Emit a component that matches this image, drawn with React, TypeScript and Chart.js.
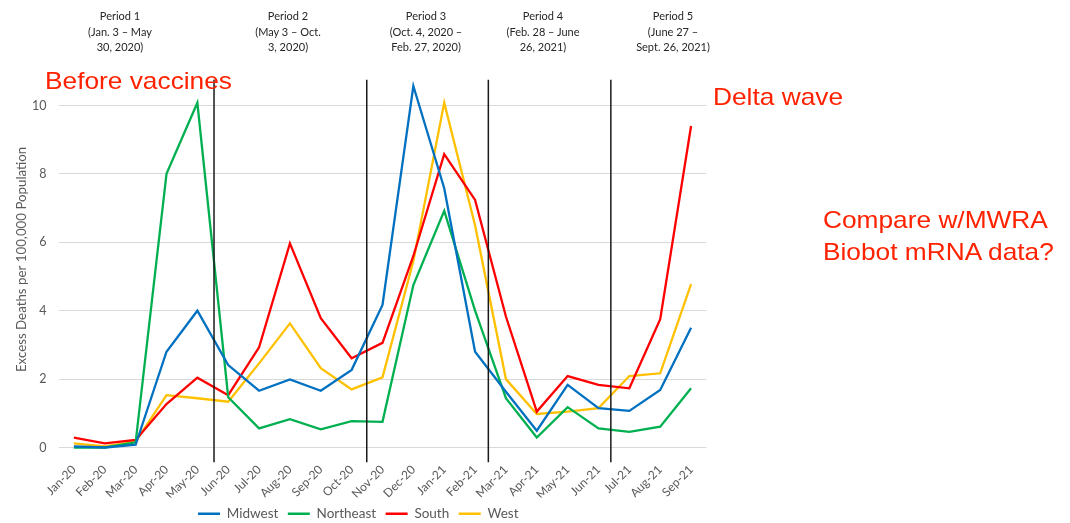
import React, { useEffect, useRef } from "react";
import { Chart, registerables } from "chart.js";

Chart.register(...registerables);

const months = [
  "Jan-20", "Feb-20", "Mar-20", "Apr-20", "May-20", "Jun-20", "Jul-20", "Aug-20", "Sep-20", "Oct-20",
  "Nov-20", "Dec-20", "Jan-21", "Feb-21", "Mar-21", "Apr-21", "May-21", "Jun-21", "Jul-21", "Aug-21", "Sep-21",
];

const midwest = [0.03, 0.0, 0.08, 2.8, 4.0, 2.41, 1.66, 1.99, 1.66, 2.27, 4.17, 10.57, 7.58, 2.8, 1.63, 0.49, 1.83, 1.15, 1.07, 1.68, 3.5];
const northeast = [0.0, 0.0, 0.15, 8.0, 10.08, 1.47, 0.56, 0.83, 0.53, 0.77, 0.75, 4.75, 6.92, 4.0, 1.44, 0.29, 1.18, 0.56, 0.46, 0.61, 1.73];
const south = [0.29, 0.12, 0.22, 1.27, 2.04, 1.53, 2.93, 5.97, 3.78, 2.61, 3.06, 5.6, 8.58, 7.24, 3.83, 1.05, 2.09, 1.83, 1.73, 3.75, 9.4];
const west = [0.12, 0.03, 0.17, 1.53, 1.44, 1.34, 2.46, 3.63, 2.32, 1.7, 2.05, 5.45, 10.08, 6.5, 2.0, 0.98, 1.05, 1.15, 2.09, 2.17, 4.78];

const seriesNames = ["Midwest", "Northeast", "South", "West"];
const seriesColors = ["#0070C0", "#00B050", "#FF0000", "#FFC000"];

// Period boundaries, in category-index units (between months)
const periodBoundaries = [4.54, 9.49, 13.43, 17.4];
const boundaryTopValue = 10.75;
const boundaryBottomValue = -0.43;

const periodLabels = [
  ["Period 1", "(Jan. 3 \u2013 May", "30, 2020)"],
  ["Period 2", "(May 3 \u2013 Oct.", "3, 2020)"],
  ["Period 3", "(Oct. 4, 2020 \u2013", "Feb. 27, 2020)"],
  ["Period 4", "(Feb. 28 \u2013 June", "26, 2021)"],
  ["Period 5", "(June 27 \u2013", "Sept. 26, 2021)"],
];
const periodCenters = [120, 288, 426, 543, 673];

const yTicks = [0, 2, 4, 6, 8, 10];
const yTitle = "Excess Deaths per 100,000 Population";
const yTitleCenterValue = 5.5;

const boundaryPlugin = {
  id: "periodBoundaries",
  afterDatasetsDraw(chart: any) {
    const xs = chart.scales.x;
    const ys = chart.scales.y;
    const ctx = chart.ctx;
    ctx.save();
    ctx.strokeStyle = "#1a1a1a";
    ctx.lineWidth = 1.5;
    periodBoundaries.forEach((p) => {
      const i = Math.floor(p);
      const x0 = xs.getPixelForValue(i);
      const x1 = xs.getPixelForValue(i + 1);
      const x = x0 + (p - i) * (x1 - x0);
      ctx.beginPath();
      ctx.moveTo(x, ys.getPixelForValue(boundaryTopValue));
      ctx.lineTo(x, ys.getPixelForValue(boundaryBottomValue));
      ctx.stroke();
    });
    ctx.restore();
  },
};

const yTitlePlugin = {
  id: "yTitle",
  afterDraw(chart: any) {
    const ys = chart.scales.y;
    const ctx = chart.ctx;
    ctx.save();
    ctx.translate(ys.left + 11.5, ys.getPixelForValue(yTitleCenterValue));
    ctx.rotate(-Math.PI / 2);
    ctx.fillStyle = "#595959";
    ctx.font = "13.3px Lato";
    ctx.textAlign = "center";
    ctx.textBaseline = "middle";
    ctx.fillText(yTitle, 0, 0);
    ctx.restore();
  },
};

export default function App() {
  const ref = useRef<HTMLCanvasElement>(null);

  useEffect(() => {
    if (!ref.current) return;
    Chart.defaults.font.family = "Lato";
    const seriesData = [midwest, northeast, south, west];
    const chart = new Chart(ref.current, {
      type: "line",
      data: {
        labels: months,
        datasets: seriesNames.map((name, k) => ({
          label: name,
          data: seriesData[k],
          borderColor: seriesColors[k],
          backgroundColor: seriesColors[k],
          borderWidth: 2.3,
          pointRadius: 0,
          pointStyle: "line",
          tension: 0,
          clip: false as any,
        })),
      },
      options: {
        responsive: false,
        animation: false,
        devicePixelRatio: 1,
        layout: { padding: { left: 10, right: 363.5, top: 105.5, bottom: 0 } },
        plugins: {
          legend: {
            position: "bottom",
            maxHeight: 25.5,
            labels: {
              usePointStyle: true,
              pointStyle: "line",
              pointStyleWidth: 22,
              padding: 9.5,
              color: "#595959",
              font: { size: 13.5, family: "Lato" },
            },
          },
          tooltip: { enabled: false },
        },
        scales: {
          x: {
            offset: true,
            grid: { display: false },
            border: { display: false },
            ticks: {
              autoSkip: false,
              minRotation: 45,
              maxRotation: 45,
              padding: 7,
              color: "#595959",
              font: { size: 12, family: "Lato" },
            },
            afterFit: (s: any) => {
              s.height = 50;
            },
          },
          y: {
            min: 0,
            max: 10,
            afterBuildTicks: (s: any) => {
              s.ticks = yTicks.map((v) => ({ value: v }));
            },
            grid: { color: "#D9D9D9", lineWidth: 1, drawTicks: false },
            border: { display: false },
            ticks: {
              padding: 12,
              color: "#595959",
              font: { size: 12.5, family: "Lato" },
            },
            title: { display: false, text: yTitle },
            afterFit: (s: any) => {
              s.width = 48.5;
            },
          },
        },
      },
      plugins: [boundaryPlugin, yTitlePlugin],
    });
    return () => chart.destroy();
  }, []);

  const redText: React.CSSProperties = {
    position: "absolute",
    color: "#FF2200",
    fontFamily: "'Liberation Sans', Arial, sans-serif",
    fontSize: 24,
    lineHeight: "32px",
    whiteSpace: "nowrap",
    transform: "scaleX(1.095)",
    transformOrigin: "left top",
  };

  return (
    <div style={{ position: "absolute", left: 0, top: 0, width: 1070, height: 523, background: "#fff", overflow: "hidden" }}>
      <canvas ref={ref} width={1070} height={523} style={{ position: "absolute", left: 0, top: 0 }} />
      {periodLabels.map((lines, i) => (
        <div
          key={i}
          style={{
            position: "absolute",
            left: periodCenters[i] - 60,
            width: 120,
            top: 8,
            textAlign: "center",
            fontFamily: "Lato",
            fontSize: 11,
            lineHeight: "15.5px",
            color: "#262626",
          }}
        >
          {lines.map((l, j) => (
            <div key={j}>{l}</div>
          ))}
        </div>
      ))}
      <div style={{ ...redText, left: 45, top: 65 }}>Before vaccines</div>
      <div style={{ ...redText, left: 713, top: 81 }}>Delta wave</div>
      <div style={{ ...redText, left: 823, top: 204 }}>
        Compare w/MWRA
        <br />
        Biobot mRNA data?
      </div>
    </div>
  );
}
